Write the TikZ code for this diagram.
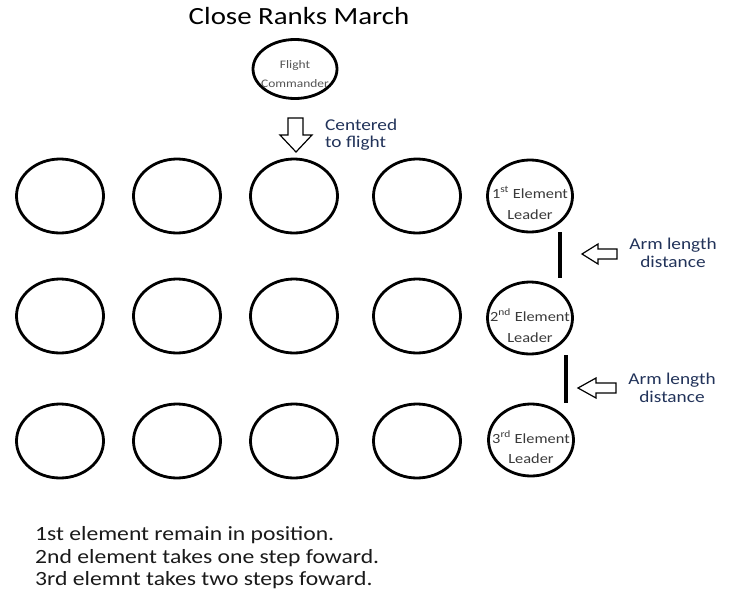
\documentclass[tikz,border=0pt]{standalone}
\usepackage{fontspec}
\setmainfont{Carlito}
\usepackage{graphicx}
\usetikzlibrary{shapes.geometric,calc}
\definecolor{navy}{HTML}{22335A}
\definecolor{leadgray}{HTML}{3A3A3A}
\definecolor{fcgray}{HTML}{555555}
\definecolor{bodyblack}{HTML}{1A1A1A}
\newcommand{\strtxt}[1]{\scalebox{1.17}[1]{#1}}
\begin{document}
\begin{tikzpicture}[x=1pt,y=-1pt,
  man/.style={ellipse,draw=black,line width=2.8pt,minimum width=87pt,minimum height=74pt,inner sep=0pt},
  leader/.style={man,minimum width=85pt,minimum height=72pt},
  commander/.style={man,minimum width=84pt,minimum height=59pt},
  txt/.style={inner sep=0pt,anchor=base},
  txtw/.style={inner sep=0pt,anchor=base west},
  titlefont/.style={font=\fontsize{24.7}{30}\selectfont,text=black},
  notefont/.style={font=\fontsize{16.5}{20}\selectfont,text=navy},
  leadfont/.style={font=\fontsize{14}{17}\selectfont,text=leadgray},
  fcfont/.style={font=\fontsize{11.5}{14}\selectfont,text=fcgray},
  bodyfont/.style={font=\fontsize{20.2}{24}\selectfont,text=bodyblack},
  blockarrow/.style={draw=black,line width=1.2pt,fill=white,line join=miter},
  bar/.style={draw=black,line width=3.5pt}
]
\fill[white] (0,0) rectangle (733,594);
\useasboundingbox (0,0) rectangle (733,594);

% title
\node[txt,titlefont] (title) at (299,25) {\strtxt{Close Ranks March}};

% flight commander
\node[commander] (fc) at (295,69) {};
\node[txt,fcfont] (fc1) at ($(fc.center)+(0,-1)$) {\strtxt{Flight}};
\node[txt,fcfont] (fc2) at ($(fc.center)+(0,18)$) {\strtxt{Commander}};

% down block arrow
\draw[blockarrow] (288,118) -- (303,118) -- (303,135) -- (312,135) -- (296,152) -- (280,135) -- (288,135) -- cycle;
\node[txtw,notefont] (c1) at (325,130) {\strtxt{Centered}};
\node[txtw,notefont] (c2) at (325,147) {\strtxt{to flight}};

% rows
\foreach \r/\y in {1/196,2/316,3/441}{
  \node[man] (m\r a) at (60,\y) {};
  \node[man] (m\r b) at (177,\y) {};
  \node[man] (m\r c) at (294,\y) {};
  \node[man] (m\r d) at (417,\y) {};
}
\node[leader] (L1) at (530,196) {};
\node[leader] (L2) at (530,318) {};
\node[leader] (L3) at (531,440) {};

\node[txt,leadfont] (L1a) at ($(L1.center)+(0,2)$) {\strtxt{1\textsuperscript{st} Element}};
\node[txt,leadfont] (L1b) at ($(L1.center)+(0,23)$) {\strtxt{Leader}};
\node[txt,leadfont] (L2a) at ($(L2.center)+(0,3)$) {\strtxt{2\textsuperscript{nd} Element}};
\node[txt,leadfont] (L2b) at ($(L2.center)+(0,24)$) {\strtxt{Leader}};
\node[txt,leadfont] (L3a) at ($(L3.center)+(0,3)$) {\strtxt{3\textsuperscript{rd} Element}};
\node[txt,leadfont] (L3b) at ($(L3.center)+(0,23)$) {\strtxt{Leader}};

% arm length bars
\draw[bar] (560,232) -- (560,278);
\draw[bar] (566,355) -- (566,403);

% left block arrows
\draw[blockarrow] (582,254) -- (598,244) -- (598,249) -- (617,249) -- (617,259) -- (598,259) -- (598,264) -- cycle;
\draw[blockarrow] (578,388) -- (596,378) -- (596,383) -- (616,383) -- (616,393) -- (596,393) -- (596,398) -- cycle;

\node[txt,notefont] (a1) at (673,249) {\strtxt{Arm length}};
\node[txt,notefont] (a2) at (673,267) {\strtxt{distance}};
\node[txt,notefont] (b1) at (672,384) {\strtxt{Arm length}};
\node[txt,notefont] (b2) at (672,402) {\strtxt{distance}};

% bottom text
\node[txtw,bodyfont] (t1) at (35,540) {\strtxt{1st element remain in position.}};
\node[txtw,bodyfont] (t2) at (35,563) {\strtxt{2nd element takes one step foward.}};
\node[txtw,bodyfont] (t3) at (35,585) {\strtxt{3rd elemnt takes two steps foward.}};
\end{tikzpicture}
\end{document}
